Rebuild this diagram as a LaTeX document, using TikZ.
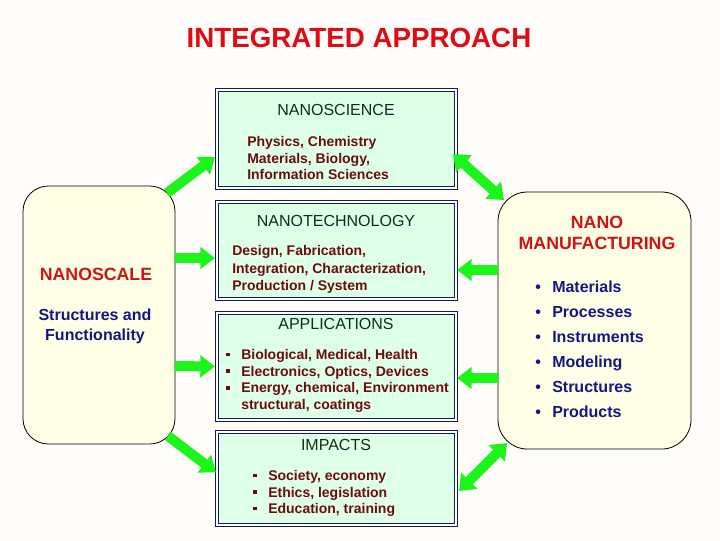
\documentclass[tikz,border=0pt]{standalone}
\usepackage{fontspec}
\setmainfont{Liberation Sans}
\usetikzlibrary{arrows.meta}
\definecolor{bgc}{RGB}{255,252,250}
\definecolor{titlered}{RGB}{225,10,18}
\definecolor{headred}{RGB}{205,20,20}
\definecolor{navy}{RGB}{22,22,130}
\definecolor{maroon}{RGB}{110,12,12}
\definecolor{boxtitle}{RGB}{12,48,22}
\definecolor{boxfill}{RGB}{222,255,232}
\definecolor{boxline}{RGB}{18,28,80}
\definecolor{cream}{RGB}{255,255,232}
\definecolor{agreen}{RGB}{28,245,28}
\newcommand{\sqb}{\makebox[11.25pt][l]{\rule[2.5pt]{2.6pt}{2.6pt}}}
\newcommand{\rdb}{\makebox[12.75pt][l]{\textbullet}}
\begin{document}
\begin{tikzpicture}[x=0.75pt,y=-0.75pt,
  areabox/.style={draw=boxline, line width=0.8pt, double=white, double distance=1pt,
    fill=boxfill, inner sep=0pt, outer sep=0pt},
  sidebox/.style={draw=black, line width=0.6pt, fill=cream, inner sep=0pt, outer sep=0pt},
  boxhead/.style={text=boxtitle, font=\fontsize{12}{14}\selectfont, inner sep=0pt},
  bodytxt/.style={text=maroon, font=\fontsize{10.5}{12.5}\bfseries\selectfont, align=left, inner sep=0pt, anchor=west},
  garrow/.style={draw=agreen, line width=7.5pt, -{Triangle[width=16pt,length=11pt]}},
  gdarrow/.style={draw=agreen, line width=7.5pt, {Triangle[width=17pt,length=11pt]}-{Triangle[width=17pt,length=11pt]}}
]
\useasboundingbox[fill=bgc] (0,0) rectangle (720,540);

% title
\node[text=titlered, font=\fontsize{20.8}{24}\bfseries\selectfont, inner sep=0pt] (title) at (359,38) {INTEGRATED APPROACH};

% central boxes
\node[areabox, minimum width=179.25pt, minimum height=73.5pt] (sci) at (336.5,139) {};
\node[areabox, minimum width=179.25pt, minimum height=72.75pt] (tech) at (336.5,250.5) {};
\node[areabox, minimum width=179.25pt, minimum height=80.25pt] (app) at (336.5,366.5) {};
\node[areabox, minimum width=179.25pt, minimum height=69.75pt] (imp) at (336.5,478.5) {};

% side boxes
\node[sidebox, rounded corners=19pt, minimum width=114pt, minimum height=193.5pt] (nsc) at (99,315) {};
\node[sidebox, rounded corners=22pt, minimum width=144.75pt, minimum height=192.75pt] (mfg) at (594.5,320.5) {};

% central box texts
\node[boxhead] (scih) at (336,110) {NANOSCIENCE};
\node[bodytxt] (scib) at (247,158) {Physics, Chemistry\\Materials, Biology,\\Information Sciences};

\node[boxhead] (techh) at (336,221) {NANOTECHNOLOGY};
\node[bodytxt, font=\fontsize{10.5}{13}\bfseries\selectfont] (techb) at (232,269.5) {Design, Fabrication,\\Integration, Characterization,\\Production / System};

\node[boxhead] (apph) at (336,324) {APPLICATIONS};
\node[bodytxt] (appb) at (226,381) {\sqb Biological, Medical, Health\\\sqb Electronics, Optics, Devices\\\sqb Energy, chemical, Environment\\\hspace*{11.25pt}structural, coatings};

\node[boxhead] (imph) at (336,445) {IMPACTS};
\node[bodytxt] (impb) at (253,493.5) {\sqb Society, economy\\\sqb Ethics, legislation\\\sqb Education, training};

% side box texts
\node[text=headred, font=\fontsize{13.3}{15}\bfseries\selectfont, inner sep=0pt] (nsch) at (96,274) {NANOSCALE};
\node[text=navy, font=\fontsize{12}{15}\bfseries\selectfont, align=center, inner sep=0pt] (nscb) at (95,326) {Structures and\\Functionality};

\node[text=headred, font=\fontsize{13.3}{15.75}\bfseries\selectfont, align=center, inner sep=0pt] (mfgh) at (597,233) {NANO\\MANUFACTURING};
\node[text=navy, font=\fontsize{12}{18.75}\bfseries\selectfont, align=left, inner sep=0pt, anchor=west] (mfgb) at (535,349)
  {\rdb Materials\\\rdb Processes\\\rdb Instruments\\\rdb Modeling\\\rdb Structures\\\rdb Products};

% arrows from NANOSCALE
\draw[garrow] ([shift={(-8,7)}]nsc.north east) -- ([shift={(-2,18)}]sci.west);
\draw[garrow] ([shift={(0,-57)}]nsc.east) -- ([shift={(-2,7.5)}]tech.west);
\draw[garrow] ([shift={(0,51)}]nsc.east) -- ([shift={(-2,0)}]app.west);
\draw[garrow] ([shift={(-7,-8)}]nsc.south east) -- ([shift={(-1,-6)}]imp.west);

% arrows with NANO MANUFACTURING
\draw[gdarrow] ([shift={(-3,15)}]sci.east) -- ([shift={(6,8)}]mfg.north west);
\draw[garrow] ([shift={(0,-50.5)}]mfg.west) -- ([shift={(1,19.5)}]tech.east);
\draw[garrow] ([shift={(0,57.5)}]mfg.west) -- ([shift={(1,11.5)}]app.east);
\draw[gdarrow] ([shift={(3,12.5)}]imp.east) -- ([shift={(9,-6)}]mfg.south west);
\end{tikzpicture}
\end{document}
